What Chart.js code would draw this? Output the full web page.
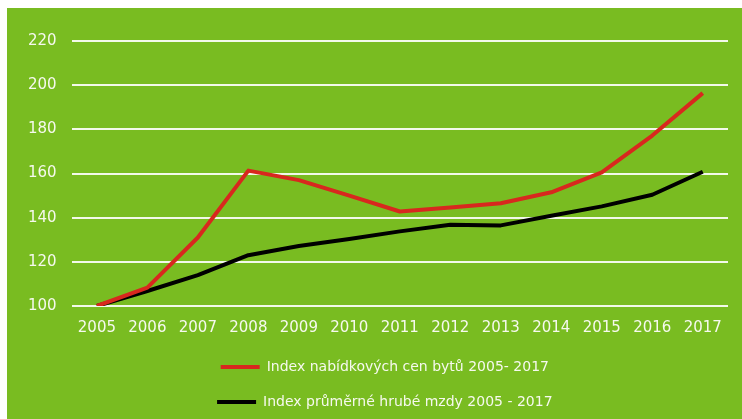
<!DOCTYPE html>
<html>
<head>
<meta charset="utf-8">
<script src="https://cdn.jsdelivr.net/npm/chart.js@4"></script>
<style>
html,body{margin:0;padding:0;background:#fff;width:742px;height:419px;overflow:hidden;}
#wrap{position:absolute;left:7px;top:8px;width:735px;height:411px;background:#79bc21;}
</style>
</head>
<body>
<div id="wrap"><canvas id="c" width="735" height="411"></canvas></div>
<script>
const years = ['2005','2006','2007','2008','2009','2010','2011','2012','2013','2014','2015','2016','2017'];
const priceIndex = [100, 108.3, 131, 161.3, 157, 150, 142.8, 144.6, 146.5, 151.5, 160.5, 177.2, 196.4];
const wageIndex = [100, 106.8, 114, 123, 127.2, 130.3, 133.8, 136.8, 136.5, 140.9, 145.1, 150.4, 160.8];
const seriesLabels = ['Index nabídkových cen bytů 2005- 2017', 'Index průměrné hrubé mzdy 2005 - 2017'];
const yTicks = [100, 120, 140, 160, 180, 200, 220];

const FONT = 'DejaVu Sans';
const legendShift = {
  id: 'legendShift',
  afterLayout(chart) {
    if (chart.legend) { chart.legend.left -= 15; chart.legend.right -= 15; }
  }
};

new Chart(document.getElementById('c'), {
  type: 'line',
  data: {
    labels: years,
    datasets: [
      { label: seriesLabels[0], data: priceIndex, borderColor: '#d8281e', backgroundColor: '#d8281e', borderWidth: 4, pointRadius: 0, tension: 0, borderJoinStyle: 'round' },
      { label: seriesLabels[1], data: wageIndex, borderColor: '#000000', backgroundColor: '#000000', borderWidth: 4, pointRadius: 0, tension: 0, borderJoinStyle: 'round' }
    ]
  },
  options: {
    responsive: false,
    animation: false,
    layout: { padding: { top: 33, left: 6, right: 14, bottom: 0 } },
    scales: {
      x: {
        offset: true,
        grid: { display: false, drawTicks: false },
        border: { display: false },
        afterFit(axis) { axis.height -= 11; },
        ticks: { color: '#f6f9ee', font: { family: FONT, size: 15 }, padding: 13, maxRotation: 0, autoSkip: false }
      },
      y: {
        min: 100, max: 220,
        afterBuildTicks(axis) { axis.ticks = yTicks.map(v => ({ value: v })); },
        grid: { color: 'rgba(255,255,255,0.9)', lineWidth: 2, drawTicks: false },
        border: { display: false },
        ticks: { color: '#f6f9ee', font: { family: FONT, size: 15 }, padding: 15 }
      }
    },
    plugins: {
      legend: {
        position: 'bottom',
        fullSize: false,
        labels: {
          color: '#f6f9ee',
          font: { family: FONT, size: 14 },
          boxWidth: 39,
          boxHeight: 4,
          padding: 21,
          generateLabels(chart) {
            return Chart.defaults.plugins.legend.labels.generateLabels(chart).map(l => ({ ...l, fillStyle: l.strokeStyle, lineWidth: 0 }));
          }
        }
      },
      tooltip: { enabled: false }
    }
  },
  plugins: [legendShift]
});
</script>
</body>
</html>
